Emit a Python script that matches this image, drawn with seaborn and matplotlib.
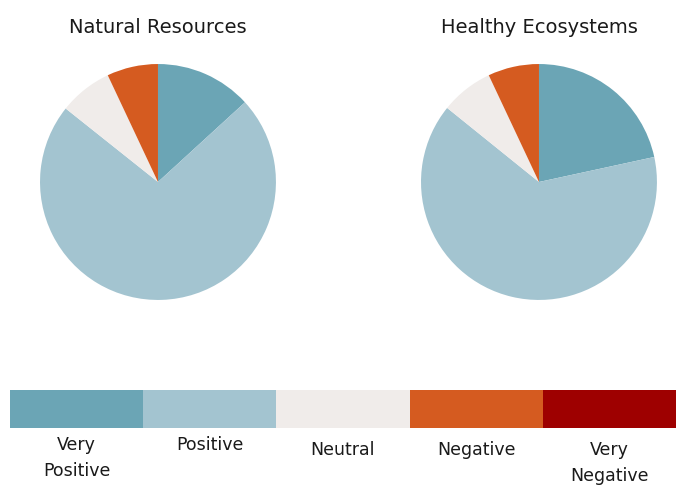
import numpy as np
import matplotlib
matplotlib.use('Agg')
import matplotlib.pyplot as plt
import seaborn as sns
from matplotlib.colors import ListedColormap

# ---- data ----
categories = ['Very Positive', 'Positive', 'Neutral', 'Negative', 'Very Negative']
legend_labels = ['Very\nPositive', 'Positive', 'Neutral', 'Negative', 'Very\nNegative']
colors = ['#6ba5b5', '#a3c4d0', '#f0ecea', '#d55b20', '#9e0000']

natural_resources = [13.2, 72.5, 7.3, 7.0, 0.0]
healthy_ecosystems = [21.6, 64.2, 7.2, 7.0, 0.0]
titles = ['Natural Resources', 'Healthy Ecosystems']

sns.set_style('white')
plt.rcParams['font.family'] = ['DejaVu Sans']

fig = plt.figure(figsize=(6.76, 4.91), dpi=100)

# ---- pies ----
pie_axes = [fig.add_axes([0.0592, 0.389, 0.349, 0.4807]),
            fig.add_axes([0.6228, 0.389, 0.349, 0.4807])]
for ax, vals, title in zip(pie_axes, [natural_resources, healthy_ecosystems], titles):
    ax.pie(vals, colors=colors, startangle=90, counterclock=False,
           wedgeprops={'linewidth': 0})
    ax.set_xlim(-1, 1)
    ax.set_ylim(-1, 1)
    ax.set_aspect('equal')
    ax.set_title(title, fontsize=14, color='#1a1a1a', pad=22)

# ---- legend strip ----
lax = fig.add_axes([0.0148, 0.1283, 0.985, 0.0774])
sns.heatmap(np.arange(len(categories)).reshape(1, -1), cmap=ListedColormap(colors),
            cbar=False, ax=lax, xticklabels=False, yticklabels=False)
label_y = [1.22, 1.22, 1.35, 1.35, 1.35]
for i, (lab, ly) in enumerate(zip(legend_labels, label_y)):
    lax.text(i + 0.5, ly, lab, ha='center', va='top', fontsize=12.5,
             color='#1a1a1a', linespacing=1.55)

fig.savefig('out.png', dpi=100)
